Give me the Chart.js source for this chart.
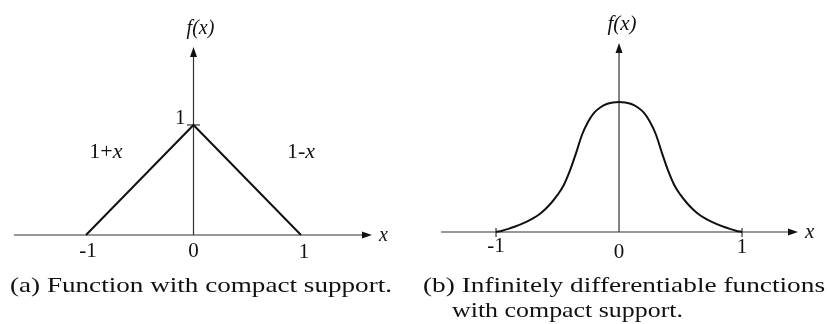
<!DOCTYPE html>
<html>
<head>
<meta charset="utf-8">
<script src="https://cdn.jsdelivr.net/npm/chart.js@4.4.1/dist/chart.umd.min.js"></script>
<style>
  body { margin: 0; background: #fff; font-family: "Liberation Serif", "Times New Roman", serif; }
  #wrap { position: relative; width: 829px; height: 324px; }
  #wrap canvas { position: absolute; top: 0; }
  .warm { position: absolute; left: -999px; top: 0; }
</style>
</head>
<body>
<div id="wrap">
  <canvas id="hat-chart" width="420" height="324" style="left:0"></canvas>
  <canvas id="bump-chart" width="409" height="324" style="left:420px"></canvas>
</div>
<span class="warm">1 <i>x</i></span>
<script>
// hat function 1-|x|
const hatX = [-1, 0, 1];
const hatY = [0, 1, 0];

// smooth bump with support [-1, 1], sampled every 0.05
const bumpX = [-1, -0.95, -0.9, -0.85, -0.8, -0.75, -0.7, -0.65, -0.6, -0.55, -0.5,
               -0.45, -0.4, -0.35, -0.3, -0.25, -0.2, -0.15, -0.1, -0.05, 0,
               0.05, 0.1, 0.15, 0.2, 0.25, 0.3, 0.35, 0.4, 0.45, 0.5,
               0.55, 0.6, 0.65, 0.7, 0.75, 0.8, 0.85, 0.9, 0.95, 1];
const bumpY = [0, 0.01, 0.024, 0.04, 0.058, 0.08, 0.105, 0.135, 0.175, 0.225, 0.285,
               0.36, 0.47, 0.605, 0.75, 0.85, 0.92, 0.96, 0.985, 0.996, 1,
               0.996, 0.985, 0.96, 0.92, 0.85, 0.75, 0.605, 0.47, 0.36, 0.285,
               0.225, 0.175, 0.135, 0.105, 0.08, 0.058, 0.04, 0.024, 0.01, 0];

const tickValues = [-1, 0, 1];
const tickLabels = ["-1", "0", "1"];
const captionA = ["(a) Function with compact support."];
const captionB = ["(b) Infinitely differentiable functions", "with compact support."];

const SERIF = "'Liberation Serif', 'Times New Roman', serif";

function toPoints(xs, ys) {
  return xs.map((x, i) => ({ x: x, y: ys[i] }));
}

// draw text stretched to a given width
function fillFitted(ctx, text, x, y, width) {
  const w = ctx.measureText(text).width;
  ctx.save();
  ctx.translate(x, y);
  ctx.scale(width / w, 1);
  ctx.fillText(text, 0, 0);
  ctx.restore();
}

function drawArrow(ctx, x, y, dir) {
  const len = 10, half = 3.5;
  ctx.beginPath();
  if (dir === "right") {
    ctx.moveTo(x, y);
    ctx.lineTo(x - len, y - half);
    ctx.lineTo(x - len, y + half);
  } else {
    ctx.moveTo(x, y);
    ctx.lineTo(x - half, y + len);
    ctx.lineTo(x + half, y + len);
  }
  ctx.closePath();
  ctx.fill();
}

// coordinate axes with arrows, ticks and all the text
const axesPlugin = {
  id: "axesArrows",
  beforeDatasetsDraw(chart, args, opts) {
    const ctx = chart.ctx;
    const xs = chart.scales.x, ys = chart.scales.y;
    const x0 = xs.getPixelForValue(0), y0 = ys.getPixelForValue(0);
    const left = xs.getPixelForValue(opts.xFrom);
    const right = xs.getPixelForValue(opts.xTo);
    const top = ys.getPixelForValue(opts.yTo);
    ctx.save();
    ctx.strokeStyle = "#333";
    ctx.fillStyle = "#111";
    ctx.lineWidth = 1.2;
    ctx.beginPath();
    ctx.moveTo(left, y0);
    ctx.lineTo(right - 6, y0);
    ctx.moveTo(x0, y0);
    ctx.lineTo(x0, top + 6);
    ctx.stroke();
    drawArrow(ctx, right, y0, "right");
    drawArrow(ctx, x0, top, "up");

    ctx.beginPath();
    (opts.xTicks || []).forEach((v) => {
      const px = xs.getPixelForValue(v);
      ctx.moveTo(px, y0 - 4);
      ctx.lineTo(px, y0 + 5);
    });
    (opts.yTicks || []).forEach((v) => {
      const py = ys.getPixelForValue(v);
      ctx.moveTo(x0 - 6.5, py);
      ctx.lineTo(x0 + 6.5, py);
    });
    ctx.stroke();
    ctx.restore();
  },
  afterDraw(chart, args, opts) {
    const ctx = chart.ctx;
    const xs = chart.scales.x, ys = chart.scales.y;
    const x0 = xs.getPixelForValue(0), y0 = ys.getPixelForValue(0);
    ctx.save();
    ctx.fillStyle = "#111";
    ctx.textBaseline = "alphabetic";

    // tick labels on the x axis
    ctx.font = opts.tickFont;
    ctx.textAlign = "center";
    tickValues.forEach((v, i) => {
      ctx.fillText(tickLabels[i], xs.getPixelForValue(v) + opts.tickShift[i], y0 + opts.tickDrop[i]);
    });

    // label for y = 1
    if (opts.yLabel) {
      ctx.textAlign = "right";
      ctx.fillText(opts.yLabel, x0 - 8, ys.getPixelForValue(1) - 1);
    }

    // axis names
    ctx.font = opts.nameFont;
    ctx.textAlign = "center";
    ctx.fillText("f(x)", x0 + opts.fxShift, ys.getPixelForValue(opts.yTo) - 13);
    ctx.textAlign = "left";
    ctx.fillText("x", xs.getPixelForValue(opts.xTo) + 7, y0 + 6);

    // formulas next to the branches
    (opts.formulas || []).forEach((f) => {
      let px = xs.getPixelForValue(f.x);
      const py = ys.getPixelForValue(f.y);
      ctx.font = opts.formulaFont;
      ctx.fillText(f.head, px, py);
      px += ctx.measureText(f.head).width;
      ctx.font = "italic " + opts.formulaFont;
      ctx.fillText("x", px, py);
    });

    // caption below the plot
    ctx.font = opts.captionFont;
    ctx.textAlign = "left";
    opts.caption.forEach((line, i) => {
      const c = opts.captionLines[i];
      fillFitted(ctx, line, c.x, c.y, c.w);
    });
    ctx.restore();
  }
};

const baseOptions = (xMin, xMax, yMin, yMax, axes) => ({
  responsive: false,
  animation: false,
  layout: { padding: 0 },
  scales: {
    x: { type: "linear", min: xMin, max: xMax, display: false },
    y: { type: "linear", min: yMin, max: yMax, display: false },
  },
  plugins: {
    legend: { display: false },
    tooltip: { enabled: false },
    axesArrows: axes,
  },
});

function drawCharts() {
  new Chart(document.getElementById("hat-chart"), {
    type: "line",
    data: {
      datasets: [{
        data: toPoints(hatX, hatY),
        borderColor: "#111",
        borderWidth: 2,
        pointRadius: 0,
        tension: 0,
        clip: false,
      }],
    },
    options: baseOptions(-1.8, 2.107, -0.809, 2.136, {
      xFrom: -1.67, xTo: 1.66, yTo: 1.709,
      yTicks: [1],
      tickFont: "21px " + SERIF,
      nameFont: "italic 20px " + SERIF,
      formulaFont: "22px " + SERIF,
      tickShift: [2, 0, 3],
      tickDrop: [22, 22, 23],
      yLabel: "1",
      fxShift: 7,
      formulas: [
        { head: "1+", x: -0.97, y: 0.7 },
        { head: "1-", x: 0.87, y: 0.7 },
      ],
      captionFont: "21px " + SERIF,
      caption: captionA,
      captionLines: [{ x: 10, y: 292, w: 382 }],
    }),
    plugins: [axesPlugin],
  });

  new Chart(document.getElementById("bump-chart"), {
    type: "line",
    data: {
      datasets: [{
        data: toPoints(bumpX, bumpY),
        borderColor: "#111",
        borderWidth: 2,
        pointRadius: 0,
        cubicInterpolationMode: "monotone",
        clip: false,
      }],
    },
    options: baseOptions(-1.618, 1.707, -0.708, 1.785, {
      xFrom: -1.447, xTo: 1.455, yTo: 1.454,
      xTicks: [-1, 1],
      tickFont: "21px " + SERIF,
      nameFont: "italic 21px " + SERIF,
      formulaFont: "21px " + SERIF,
      tickShift: [0, 0, 0],
      tickDrop: [20, 26, 21],
      yLabel: null,
      fxShift: 3,
      captionFont: "21px " + SERIF,
      caption: captionB,
      captionLines: [{ x: 3, y: 292, w: 402 }, { x: 32, y: 317, w: 231 }],
    }),
    plugins: [axesPlugin],
  });
}

Promise.all([
  document.fonts.load("20px 'Liberation Serif'"),
  document.fonts.load("italic 20px 'Liberation Serif'"),
]).then(drawCharts, drawCharts);
</script>
</body>
</html>
